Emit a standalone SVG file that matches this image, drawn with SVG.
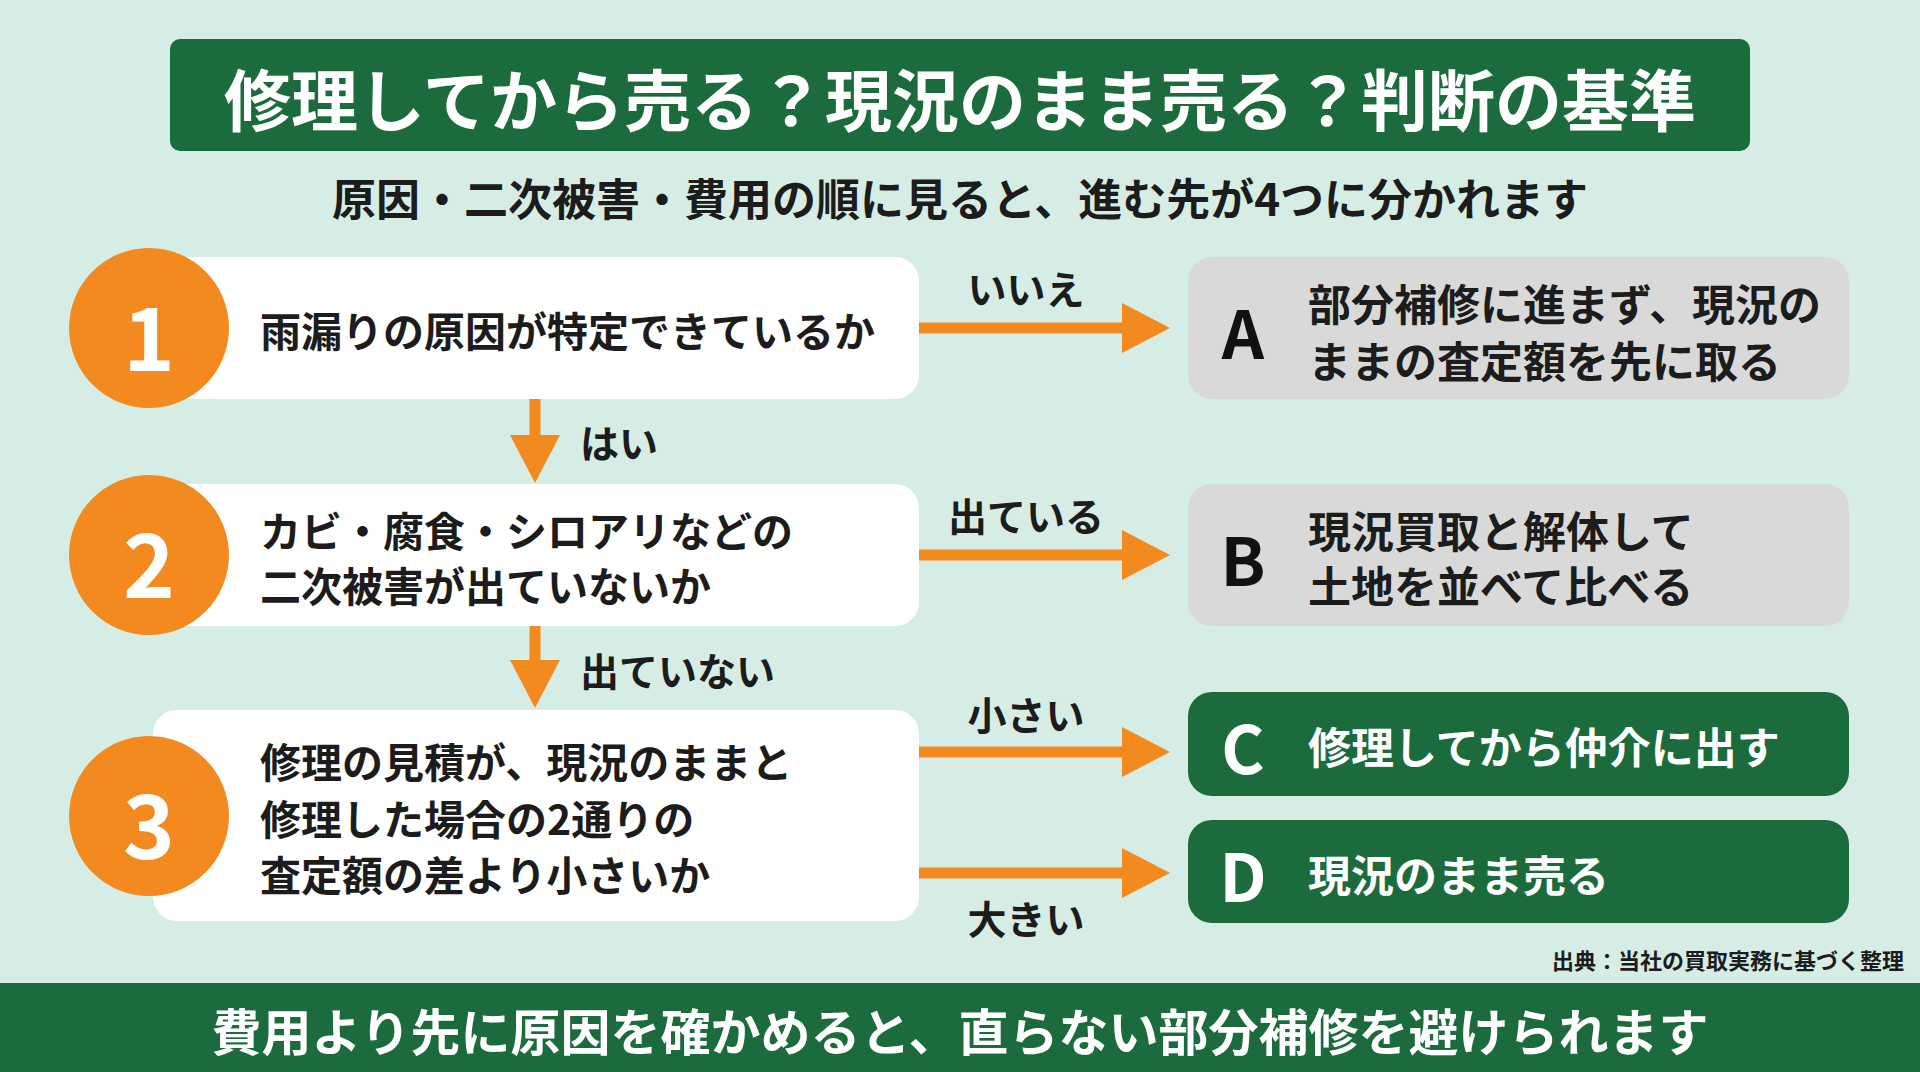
<svg xmlns="http://www.w3.org/2000/svg" width="1920" height="1072" viewBox="0 0 1920 1072">
<style>
text{font-family:"Noto Sans CJK JP","Noto Sans",sans-serif;font-weight:700;dominant-baseline:central}
.card{fill:#ffffff}
.circ{fill:#f28a20}
.num{fill:#fff;font-size:88px;text-anchor:middle}
.q{fill:#1c1c1c;font-size:41px}
.gray{fill:#d9d9d9}
.green{fill:#1b6b3d}
.letter{font-size:66px;text-anchor:middle}
.atxt{font-size:43px}
.lbl{fill:#1c1c1c;font-size:39px;text-anchor:middle}
.arr{stroke:#f28a20;stroke-width:11;fill:none}
</style>
<defs>
<marker id="ah" markerUnits="userSpaceOnUse" markerWidth="48" markerHeight="50" refX="2" refY="25" orient="auto">
<polygon points="0,0 48,25 0,50" fill="#f28a20"/>
</marker>
</defs>
<rect width="1920" height="1072" fill="#d5ede5"/>
<g id="title">
<rect x="170" y="39" width="1580" height="112" rx="10" class="green"/>
<text x="960" y="96" fill="#fff" font-size="67" text-anchor="middle">修理してから売る？現況のまま売る？判断の基準</text>
</g>
<g id="subtitle"><text x="960" y="197" fill="#1c1c1c" font-size="44" text-anchor="middle">原因・二次被害・費用の順に見ると、進む先が4つに分かれます</text></g>
<g id="q1">
<rect x="153" y="257" width="766" height="142" rx="24" class="card"/>
<circle cx="149" cy="328" r="80" class="circ"/>
<text x="149" y="332" class="num">1</text>
<text x="260" y="329" class="q">雨漏りの原因が特定できているか</text>
</g>
<g id="q2">
<rect x="153" y="484" width="766" height="142" rx="24" class="card"/>
<circle cx="149" cy="555" r="80" class="circ"/>
<text x="149" y="559" class="num">2</text>
<text x="260" y="529" class="q">カビ・腐食・シロアリなどの</text>
<text x="260" y="584" class="q">二次被害が出ていないか</text>
</g>
<g id="q3">
<rect x="153" y="710" width="766" height="211" rx="24" class="card"/>
<circle cx="149" cy="816" r="80" class="circ"/>
<text x="149" y="820" class="num">3</text>
<text x="260" y="760" class="q">修理の見積が、現況のままと</text>
<text x="260" y="817" class="q">修理した場合の2通りの</text>
<text x="260" y="873" class="q">査定額の差より小さいか</text>
</g>
<g id="A">
<rect x="1188" y="257" width="661" height="142" rx="24" class="gray"/>
<text x="1243" y="330" class="letter" fill="#111">A</text>
<text x="1308" y="302" class="atxt" fill="#1c1c1c">部分補修に進まず、現況の</text>
<text x="1308" y="359" class="atxt" fill="#1c1c1c">ままの査定額を先に取る</text>
</g>
<g id="B">
<rect x="1188" y="484" width="661" height="142" rx="24" class="gray"/>
<text x="1243" y="557" class="letter" fill="#111">B</text>
<text x="1308" y="529" class="atxt" fill="#1c1c1c">現況買取と解体して</text>
<text x="1308" y="584" class="atxt" fill="#1c1c1c">土地を並べて比べる</text>
</g>
<g id="C">
<rect x="1188" y="692" width="661" height="104" rx="24" class="green"/>
<text x="1243" y="745" class="letter" fill="#fff">C</text>
<text x="1308" y="745" class="atxt" fill="#fff">修理してから仲介に出す</text>
</g>
<g id="D">
<rect x="1188" y="820" width="661" height="103" rx="24" class="green"/>
<text x="1243" y="873" class="letter" fill="#fff">D</text>
<text x="1308" y="873" class="atxt" fill="#fff">現況のまま売る</text>
</g>
<g id="connectors">
<line x1="919" y1="328" x2="1124" y2="328" class="arr" marker-end="url(#ah)"/>
<line x1="919" y1="555" x2="1124" y2="555" class="arr" marker-end="url(#ah)"/>
<line x1="919" y1="752" x2="1124" y2="752" class="arr" marker-end="url(#ah)"/>
<line x1="919" y1="873" x2="1124" y2="873" class="arr" marker-end="url(#ah)"/>
<line x1="535" y1="399" x2="535" y2="437" class="arr" marker-end="url(#ah)"/>
<line x1="535" y1="626" x2="535" y2="662" class="arr" marker-end="url(#ah)"/>
<text x="1026" y="287" class="lbl">いいえ</text>
<text x="1026" y="514" class="lbl">出ている</text>
<text x="1026" y="713" class="lbl">小さい</text>
<text x="1026" y="917" class="lbl">大きい</text>
<text x="580" y="441" class="lbl" style="text-anchor:start">はい</text>
<text x="580" y="669" class="lbl" style="text-anchor:start">出ていない</text>
</g>
<g id="source"><text x="1904" y="959" fill="#1c1c1c" font-size="22" text-anchor="end">出典：当社の買取実務に基づく整理</text></g>
<g id="footer">
<rect x="0" y="983" width="1920" height="89" class="green"/>
<text x="960" y="1029" fill="#fff" font-size="50" text-anchor="middle">費用より先に原因を確かめると、直らない部分補修を避けられます</text>
</g>
</svg>
